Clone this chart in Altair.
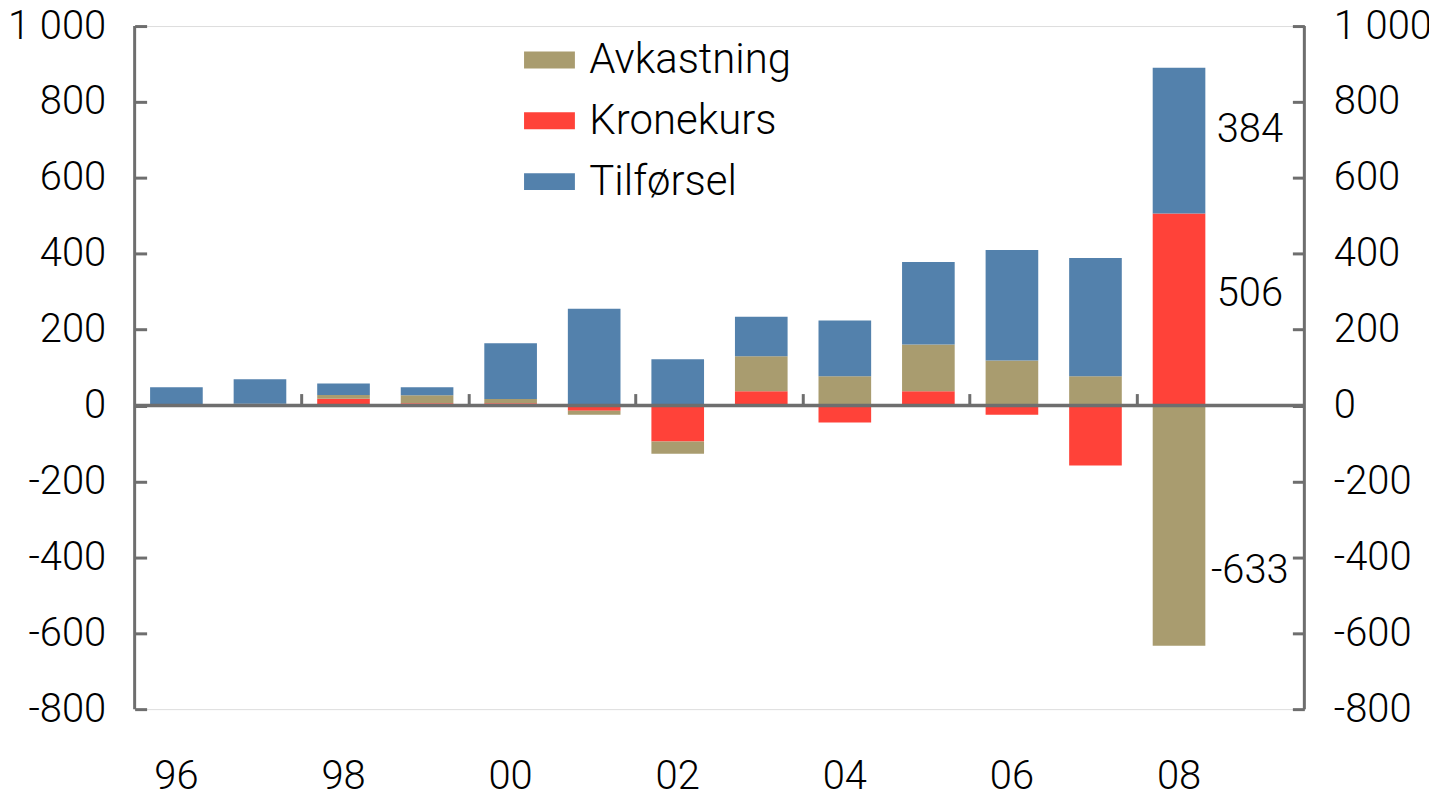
import altair as alt
import pandas as pd

# ---- data ----
years = ["96", "97", "98", "99", "00", "01", "02", "03", "04", "05", "06", "07", "08"]
year_domain = years + ["09"]
tick_years = ["98", "00", "02", "04", "06", "08"]
label_years = ["96", "98", "00", "02", "04", "06", "08"]

tilforsel = [47, 64, 30, 21, 147, 255, 122, 104, 147, 217, 291, 312, 384]
avkastning = [1, 5, 10, 21, 11, -10, -32, 92, 77, 123, 119, 77, -633]
kronekurs = [0, 0, 18, 6, 6, -14, -95, 38, -45, 38, -24, -158, 506]

series = ["Avkastning", "Kronekurs", "Tilførsel"]
series_colors = ["#A99C6F", "#FF4239", "#5381AC"]
stack_rank = ["Kronekurs", "Avkastning", "Tilførsel"]

ann_texts = ["384", "506", "-633"]
ann_years = ["08", "08", "08"]
ann_anchor = [727, 293, -435]

y_domain = [-800, 1000]
y_ticks = list(range(-800, 1001, 200))

# ---- tables ----
rows = []
for i, yr in enumerate(years):
    for name, vals in (("Kronekurs", kronekurs), ("Avkastning", avkastning), ("Tilførsel", tilforsel)):
        rows.append({"year": yr, "series": name, "value": vals[i], "ord": stack_rank.index(name)})
df = pd.DataFrame(rows)
ann_df = pd.DataFrame({"year": ann_years, "pos": ann_anchor, "text": ann_texts})
zero_df = pd.DataFrame({"z": [0]})
edge_df = pd.DataFrame({"lo": [y_domain[0]], "hi": [y_domain[1]]})

W, H = 1173, 685
zero_px = H * y_domain[1] / (y_domain[1] - y_domain[0])
FONT = "Roboto"
AX = "#6E6E6E"
FS = 40

x_bar_scale = alt.Scale(type="band", domain=year_domain, paddingInner=0.37, paddingOuter=0.185)
x_slot_scale = alt.Scale(type="band", domain=year_domain, paddingInner=0, paddingOuter=0)
y_scale = alt.Scale(domain=y_domain, nice=False, zero=False)
label_expr = "replace(replace(format(datum.value, ','), ',', ' '), '\u2212', '-')"


def y_axis(orient):
    return alt.Axis(orient=orient, offset=-12, domain=False, values=y_ticks, tickSize=12,
                    tickWidth=3, tickColor=AX, labelPadding=29, labelExpr=label_expr,
                    labelFontSize=FS, labelFont=FONT, labelFontWeight=300, labelColor="#000000",
                    grid=False, title=None)


bars = alt.Chart(df).mark_bar().encode(
    x=alt.X("year:N", scale=x_bar_scale,
            axis=alt.Axis(orient="bottom", values=label_years, ticks=False, tickSize=0,
                          domain=False, labelPadding=48, labelFontSize=FS, labelFont=FONT,
                          labelFontWeight=300, labelColor="#000000", labelAngle=0, title=None)),
    y=alt.Y("value:Q", stack="zero", scale=y_scale, axis=y_axis("left")),
    color=alt.Color("series:N", scale=alt.Scale(domain=series, range=series_colors),
                    legend=alt.Legend(orient="none", legendX=378, legendY=13, title=None,
                                      symbolType="M-1,-1H5V1H-1Z", symbolSize=289,
                                      symbolStrokeWidth=0, labelFontSize=42, labelFont=FONT,
                                      labelFontWeight=300, labelColor="#000000",
                                      labelLimit=500, labelOffset=36, rowPadding=19,
                                      padding=0)),
    order=alt.Order("ord:Q", sort="ascending"),
)

zero_line = alt.Chart(zero_df).mark_rule(color=AX, strokeWidth=3.5).encode(
    y=alt.Y("z:Q", scale=y_scale, axis=None)
)

left_line = alt.Chart(edge_df).mark_rule(color=AX, strokeWidth=3).encode(
    x=alt.value(0), y=alt.Y("lo:Q", scale=y_scale, axis=None), y2="hi:Q"
)
right_line = alt.Chart(edge_df).mark_rule(color=AX, strokeWidth=3).encode(
    x=alt.value(W), y=alt.Y("lo:Q", scale=y_scale, axis=None), y2="hi:Q"
)

carrier = alt.Chart(df).mark_point(opacity=0).encode(
    x=alt.X("year:N", scale=x_slot_scale,
            axis=alt.Axis(orient="top", offset=-zero_px, values=tick_years, bandPosition=0,
                          labels=False, domain=False, tickSize=12, tickWidth=3, tickColor=AX,
                          title=None)),
    y=alt.Y("value:Q", scale=y_scale, axis=y_axis("right")),
)

labels = alt.Chart(ann_df).mark_text(dx=71, fontSize=FS, font=FONT, fontWeight=300,
                                     align="center", baseline="middle", color="#000000").encode(
    x=alt.X("year:N", scale=x_bar_scale, axis=None),
    y=alt.Y("pos:Q", scale=y_scale, axis=None),
    text="text:N",
)

chart = alt.layer(bars, zero_line, left_line, right_line, carrier, labels).resolve_scale(
    x="independent"
).resolve_axis(x="independent", y="independent").properties(
    width=W, height=H, autosize=alt.AutoSizeParams(type="none"),
    padding={"left": 127, "top": 17, "right": 125, "bottom": 86},
).configure_view(stroke=None).configure(font=FONT)

chart.save("out.html", embed_options={"renderer": "svg", "actions": False})
